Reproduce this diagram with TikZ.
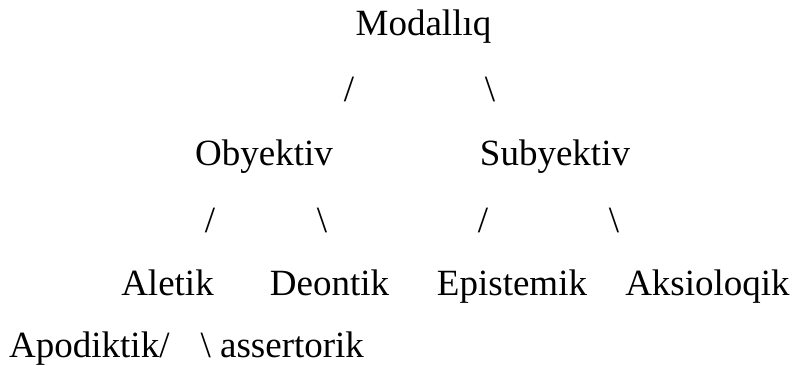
\documentclass[tikz,border=0pt]{standalone}
\usepackage{fontspec}
\setmainfont{Liberation Serif}
\begin{document}
\begin{tikzpicture}[x=1pt,y=1pt,
  lbl/.style={inner sep=0pt, anchor=base, font=\fontsize{37}{40}\selectfont}]
\useasboundingbox[fill=white] (0,0) rectangle (795,365);
\node[lbl] (mod) at (423.5,329) {Modallıq};
\node[lbl] (s1) at (349,264) {/};
\node[lbl] (b1) at (490,264) {\textbackslash};
\node[lbl] (oby) at (264,200) {Obyektiv};
\node[lbl] (sub) at (555,200) {Subyektiv};
\node[lbl] (s2) at (210,133) {/};
\node[lbl] (b2) at (322,133) {\textbackslash};
\node[lbl] (s3) at (483,133) {/};
\node[lbl] (b3) at (614,133) {\textbackslash};
\node[lbl] (ale) at (167.5,70) {Aletik};
\node[lbl] (deo) at (329.5,70) {Deontik};
\node[lbl] (epi) at (512,70) {Epistemik};
\node[lbl] (aks) at (707.5,70) {Aksioloqik};
\node[lbl, anchor=base west] (apo) at (9,8) {Apodiktik/\hspace{0.84em}\textbackslash\ assertorik};
\end{tikzpicture}
\end{document}
